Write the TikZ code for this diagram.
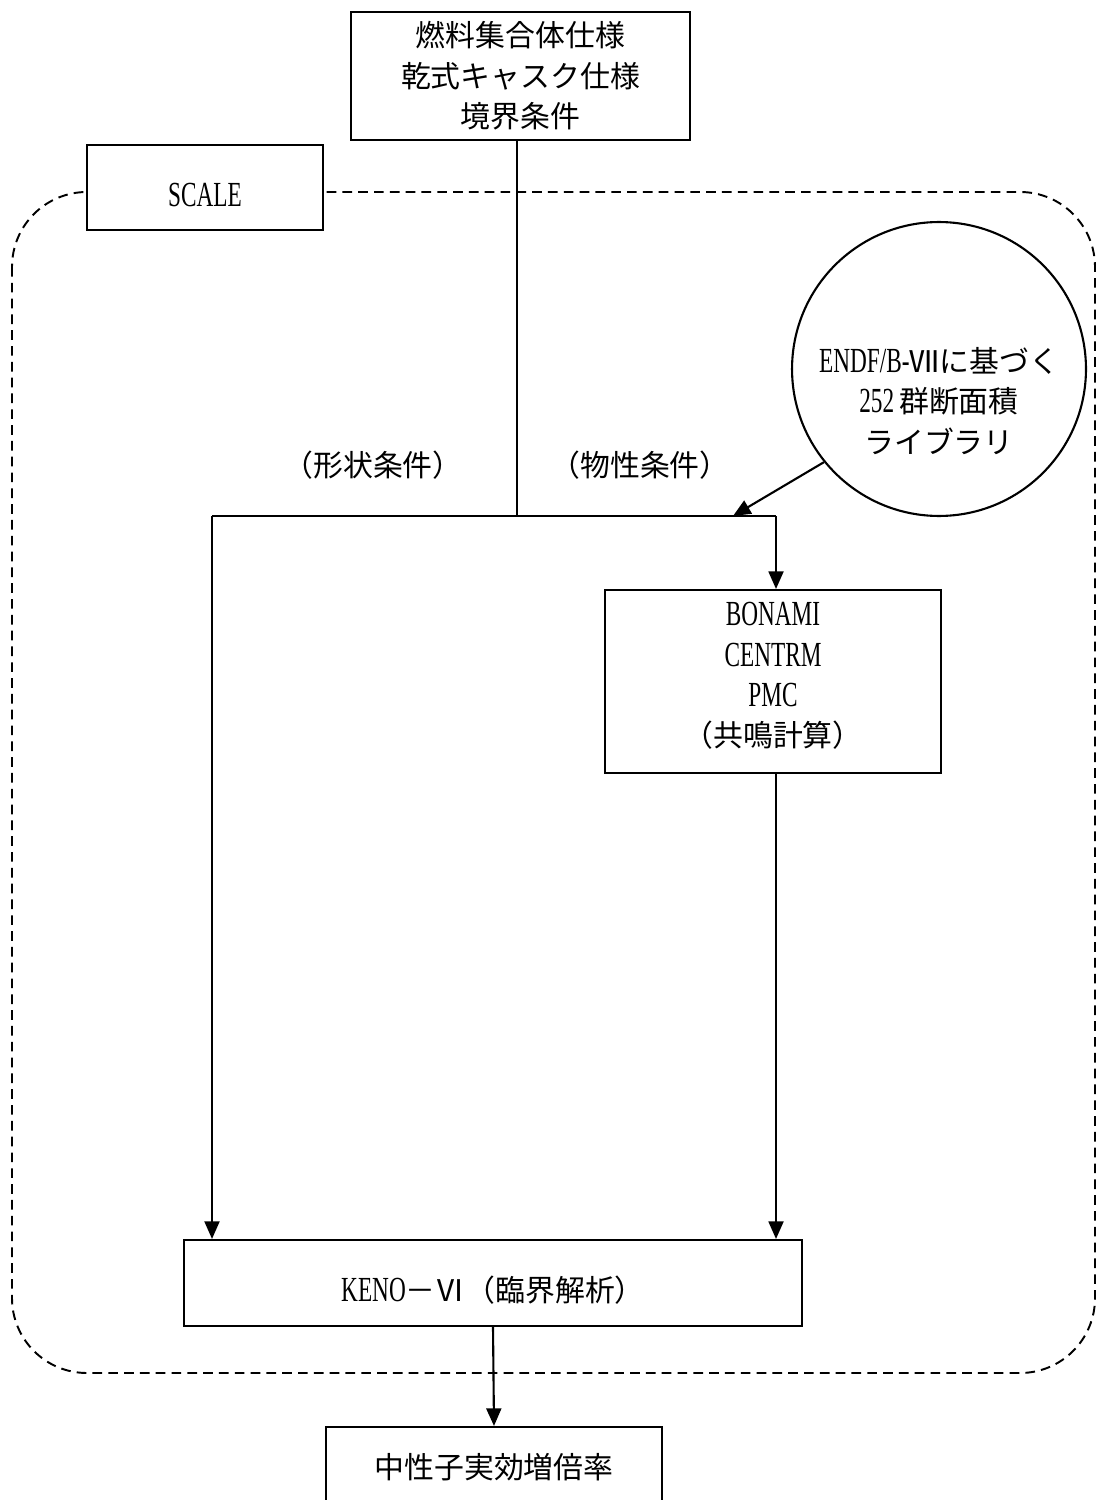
\documentclass[tikz,border=0pt]{standalone}
\usepackage{fontspec}
\setmainfont[FakeStretch=0.66,Scale=1.18]{Liberation Serif}
\newfontfamily\jp{Noto Sans CJK JP}
\usetikzlibrary{arrows.meta,shapes.geometric}
\begin{document}
\begin{tikzpicture}[x=0.02cm,y=-0.02cm,
  every node/.style={font=\fontsize{17}{23}\selectfont, align=center, inner sep=0pt},
  box/.style={draw, line width=1.2pt, fill=white},
  conn/.style={line width=1.2pt},
  arr/.style={line width=1.2pt, -{Triangle[length=10pt,width=8.5pt]}},
  scalebound/.style={line width=1.1pt, dash pattern=on 5.5pt off 3.5pt, rounded corners=1.5cm},
  lbl/.style={}]
\useasboundingbox (0,0) rectangle (1097,1500);
% dashed SCALE boundary
\draw[scalebound] (12,192) rectangle (1095,1373);
% nodes
\node[box, minimum width=6.78cm, minimum height=2.56cm] (top) at (520.5,76)
  {\jp 燃料集合体仕様\\ \jp 乾式キャスク仕様\\ \jp 境界条件};
\node[box, minimum width=4.72cm, minimum height=1.7cm] (scale) at (205,187.5) {};
\node (scaletext) at (205,195) {SCALE};
\node[draw, circle, line width=1.2pt, minimum size=5.88cm] (lib) at (939,369) {};
\node (libtext) at (939,401) {ENDF/B-{\jp Ⅶに基づく}\\ 252{\jp\,群断面積}\\ {\jp ライブラリ}};
\node[lbl] (shape) at (373,465) {\jp （形状条件）};
\node[lbl] (prop) at (640,465) {\jp （物性条件）};
\node[box, minimum width=6.72cm, minimum height=3.66cm] (bon) at (773,681.5) {};
\node (bontext) at (773,676) {BONAMI\\ CENTRM\\ PMC\\ {\jp （共鳴計算）}};
\node[box, minimum width=12.36cm, minimum height=1.72cm] (keno) at (493,1283) {};
\node (kenotext) at (493,1290) {KENO{\jp －Ⅵ（臨界解析）}};
\node[box, minimum width=6.72cm, minimum height=1.6cm] (res) at (494,1467)
  {\jp 中性子実効増倍率};
% connectors
\coordinate (j) at (517,516);
\coordinate (jl) at (212,516);
\coordinate (jr) at (776,516);
\coordinate (tip) at (733,516);
\draw[conn] (top.south -| j) -- (j);
\draw[conn] (jl) -- (jr);
\draw[arr] (jl) -- (jl |- keno.north);
\draw[arr] (jr) -- (jr |- bon.north);
\draw[arr] (bon.south -| jr) -- (jr |- keno.north);
\draw[arr] (lib.219) -- (tip);
\draw[arr] (keno.south) -- (res.north);
\end{tikzpicture}
\end{document}
